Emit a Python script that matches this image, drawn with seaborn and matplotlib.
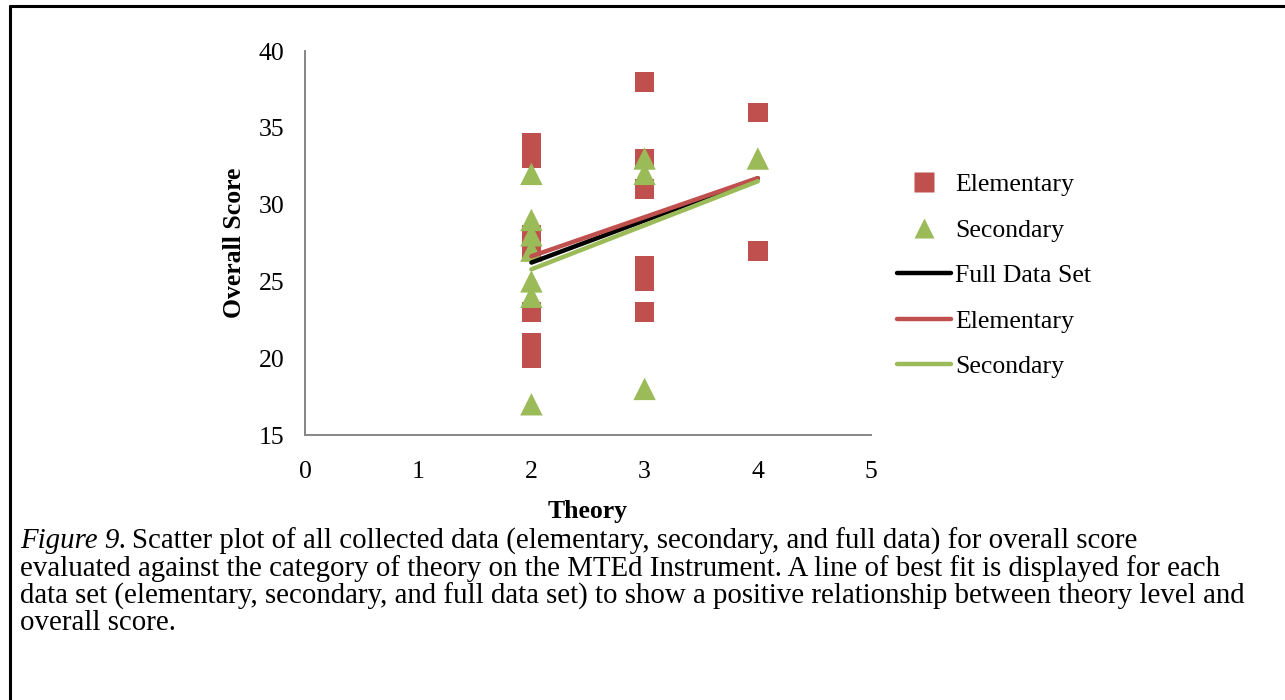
import numpy as np
import pandas as pd
import seaborn as sns
import matplotlib.pyplot as plt
from matplotlib.lines import Line2D

# values
elem_theory = [2, 2, 2, 2, 2, 2, 2, 3, 3, 3, 3, 3, 3, 4, 4]
elem_score = [34, 33, 28, 27, 23, 21, 20, 38, 33, 31, 26, 25, 23, 36, 27]
sec_theory = [2, 2, 2, 2, 2, 2, 2, 3, 3, 3, 4]
sec_score = [32, 29, 28, 27, 25, 24, 17, 33, 32, 18, 33]

x_ticks = [0, 1, 2, 3, 4, 5]
y_ticks = [15, 20, 25, 30, 35, 40]

caption_lines = [
    "Scatter plot of all collected data (elementary, secondary, and full data) for overall score",
    "evaluated against the category of theory on the MTEd Instrument. A line of best fit is displayed for each",
    "data set (elementary, secondary, and full data set) to show a positive relationship between theory level and",
    "overall score.",
]

RED = "#C0504D"
GREEN = "#9BBB59"
AXIS_GREY = "#868686"
FS = 18.5
CAP_FS = 20.8

elem = pd.DataFrame({"Theory": elem_theory, "Score": elem_score})
sec = pd.DataFrame({"Theory": sec_theory, "Score": sec_score})
full = pd.concat([elem, sec], ignore_index=True)

sns.set_style("white")
plt.rcParams["font.family"] = ["Liberation Serif", "DejaVu Serif"]
plt.rcParams["text.color"] = "black"
plt.rcParams["axes.labelcolor"] = "black"

W, H = 1285, 700
fig = plt.figure(figsize=(W / 100, H / 100), dpi=100)
ax = fig.add_axes([305 / W, 1 - 435 / H, (871 - 305) / W, (435 - 51) / H])

sns.scatterplot(data=elem, x="Theory", y="Score", marker="s", s=200,
                color=RED, edgecolor="none", ax=ax, zorder=2)
sns.scatterplot(data=sec, x="Theory", y="Score", marker="^", s=260,
                color=GREEN, edgecolor="none", ax=ax, zorder=3)

# best fit lines
sns.regplot(data=full, x="Theory", y="Score", scatter=False, ci=None,
            color="black", line_kws={"lw": 3.2, "solid_capstyle": "round", "zorder": 4}, ax=ax)
sns.regplot(data=elem, x="Theory", y="Score", scatter=False, ci=None,
            color=RED, line_kws={"lw": 3.2, "solid_capstyle": "round", "zorder": 4}, ax=ax)
sns.regplot(data=sec, x="Theory", y="Score", scatter=False, ci=None,
            color=GREEN, line_kws={"lw": 3.2, "solid_capstyle": "round", "zorder": 4}, ax=ax)

ax.set_xlim(0, 5)
ax.set_ylim(15, 40)
ax.set_xticks(x_ticks)
ax.set_yticks(y_ticks)
ax.tick_params(axis="both", direction="in", length=6, width=1.2, color=AXIS_GREY,
               labelsize=FS, labelcolor="black")
ax.tick_params(axis="y", pad=15)
ax.tick_params(axis="x", pad=19)
for side in ["top", "right"]:
    ax.spines[side].set_visible(False)
for side in ["left", "bottom"]:
    ax.spines[side].set_color(AXIS_GREY)
    ax.spines[side].set_linewidth(1.4)
ax.set_xlabel("Theory", fontsize=FS, fontweight="bold", labelpad=12)
ax.set_ylabel("Overall Score", fontsize=FS, fontweight="bold", labelpad=9)

handles = [
    Line2D([], [], ls="none", marker="s", ms=14, color=RED, mec="none"),
    Line2D([], [], ls="none", marker="^", ms=14, color=GREEN, mec="none"),
    Line2D([], [], color="black", lw=3.2, solid_capstyle="round"),
    Line2D([], [], color=RED, lw=3.2, solid_capstyle="round"),
    Line2D([], [], color=GREEN, lw=3.2, solid_capstyle="round"),
]
labels = ["Elementary", "Secondary", "Full Data Set", "Elementary", "Secondary"]
fig.legend(handles, labels, loc="upper left", bbox_to_anchor=(897 / W, 1 - 173 / H),
           frameon=False, fontsize=FS, handlelength=2.1, handletextpad=0.15,
           labelspacing=0.88, borderaxespad=0, borderpad=0)

# caption
fig_t = fig.text(20 / W, 1 - 541 / H, "Figure 9.", fontsize=CAP_FS, style="italic", va="center")
fig.canvas.draw()
bb = fig_t.get_window_extent()
fig.text((bb.x1 + 5) / W, 1 - 541 / H, caption_lines[0], fontsize=CAP_FS, va="center")
for i, line in enumerate(caption_lines[1:], start=1):
    fig.text(20 / W, 1 - (541 + 27.5 * i) / H, line, fontsize=CAP_FS, va="center")

# figure border (top and left)
fig.add_artist(Line2D([10 / W, 10 / W], [0, 1 - 6 / H], color="black", lw=2.2,
                      transform=fig.transFigure))
fig.add_artist(Line2D([10 / W, 1], [1 - 6 / H, 1 - 6 / H], color="black", lw=2.2,
                      transform=fig.transFigure))

fig.savefig("out.png", dpi=100)
